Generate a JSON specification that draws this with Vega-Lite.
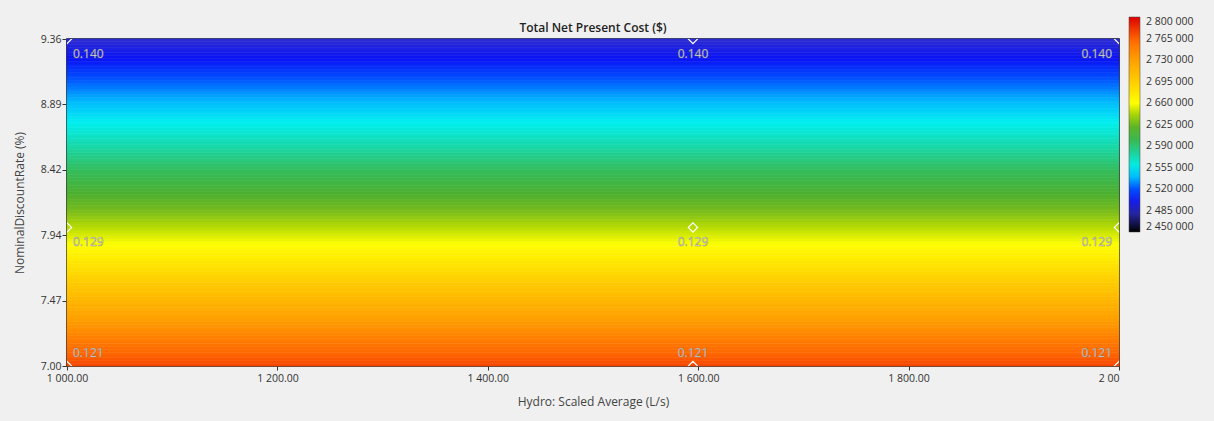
{
  "$schema": "https://vega.github.io/schema/vega-lite/v6.json",
  "width": 1052,
  "height": 327,
  "autosize": {"type": "none"},
  "padding": {"left": 67, "top": 39, "right": 95, "bottom": 55},
  "background": "#f0f0f0",
  "config": {
    "locale": {"number": {"decimal": ".", "thousands": " ", "grouping": [3], "currency": ["$", ""]}},
    "font": "Open Sans",
    "view": {"stroke": "#111111", "strokeWidth": 1.6},
    "axis": {
      "domain": false,
      "grid": false,
      "tickColor": "#333333",
      "tickSize": 4,
      "labelColor": "#333333",
      "labelFontSize": 10.5,
      "labelFont": "Open Sans",
      "labelFlush": false,
      "titleFont": "Open Sans",
      "titleFontSize": 12,
      "titleFontWeight": "normal",
      "titleColor": "#444444"
    }
  },
  "title": {
    "text": "Total Net Present Cost ($)",
    "fontSize": 12,
    "fontWeight": 600,
    "color": "#222222",
    "offset": 7,
    "dy": 25,
    "anchor": "middle",
    "frame": "group",
    "font": "Open Sans"
  },
  "datasets": {
    "strips": [
      {"r0": 7.00, "r1": 7.02, "npc": 2774900},
      {"r0": 7.02, "r1": 7.04, "npc": 2772100},
      {"r0": 7.04, "r1": 7.06, "npc": 2769400},
      {"r0": 7.06, "r1": 7.08, "npc": 2766600},
      {"r0": 7.08, "r1": 7.10, "npc": 2763900},
      {"r0": 7.10, "r1": 7.12, "npc": 2761100},
      {"r0": 7.12, "r1": 7.14, "npc": 2758400},
      {"r0": 7.14, "r1": 7.16, "npc": 2755600},
      {"r0": 7.16, "r1": 7.18, "npc": 2752900},
      {"r0": 7.18, "r1": 7.20, "npc": 2750200},
      {"r0": 7.20, "r1": 7.22, "npc": 2747500},
      {"r0": 7.22, "r1": 7.24, "npc": 2744800},
      {"r0": 7.24, "r1": 7.26, "npc": 2742100},
      {"r0": 7.26, "r1": 7.28, "npc": 2739400},
      {"r0": 7.28, "r1": 7.30, "npc": 2736700},
      {"r0": 7.30, "r1": 7.32, "npc": 2734000},
      {"r0": 7.32, "r1": 7.34, "npc": 2731300},
      {"r0": 7.34, "r1": 7.36, "npc": 2728700},
      {"r0": 7.36, "r1": 7.38, "npc": 2726000},
      {"r0": 7.38, "r1": 7.40, "npc": 2723300},
      {"r0": 7.40, "r1": 7.42, "npc": 2720700},
      {"r0": 7.42, "r1": 7.44, "npc": 2718000},
      {"r0": 7.44, "r1": 7.46, "npc": 2715400},
      {"r0": 7.46, "r1": 7.48, "npc": 2712700},
      {"r0": 7.48, "r1": 7.50, "npc": 2710100},
      {"r0": 7.50, "r1": 7.52, "npc": 2707500},
      {"r0": 7.52, "r1": 7.54, "npc": 2704900},
      {"r0": 7.54, "r1": 7.56, "npc": 2702300},
      {"r0": 7.56, "r1": 7.58, "npc": 2699600},
      {"r0": 7.58, "r1": 7.60, "npc": 2697000},
      {"r0": 7.60, "r1": 7.62, "npc": 2694400},
      {"r0": 7.62, "r1": 7.64, "npc": 2691900},
      {"r0": 7.64, "r1": 7.66, "npc": 2689300},
      {"r0": 7.66, "r1": 7.68, "npc": 2686700},
      {"r0": 7.68, "r1": 7.70, "npc": 2684100},
      {"r0": 7.70, "r1": 7.72, "npc": 2681600},
      {"r0": 7.72, "r1": 7.74, "npc": 2679000},
      {"r0": 7.74, "r1": 7.76, "npc": 2676400},
      {"r0": 7.76, "r1": 7.78, "npc": 2673900},
      {"r0": 7.78, "r1": 7.80, "npc": 2671300},
      {"r0": 7.80, "r1": 7.82, "npc": 2668800},
      {"r0": 7.82, "r1": 7.84, "npc": 2666300},
      {"r0": 7.84, "r1": 7.86, "npc": 2663800},
      {"r0": 7.86, "r1": 7.88, "npc": 2661200},
      {"r0": 7.88, "r1": 7.90, "npc": 2658700},
      {"r0": 7.90, "r1": 7.92, "npc": 2656200},
      {"r0": 7.92, "r1": 7.94, "npc": 2653700},
      {"r0": 7.94, "r1": 7.96, "npc": 2651200},
      {"r0": 7.96, "r1": 7.98, "npc": 2648700},
      {"r0": 7.98, "r1": 8.00, "npc": 2646200},
      {"r0": 8.00, "r1": 8.02, "npc": 2643800},
      {"r0": 8.02, "r1": 8.04, "npc": 2641300},
      {"r0": 8.04, "r1": 8.06, "npc": 2638800},
      {"r0": 8.06, "r1": 8.08, "npc": 2636400},
      {"r0": 8.08, "r1": 8.10, "npc": 2633900},
      {"r0": 8.10, "r1": 8.12, "npc": 2631500},
      {"r0": 8.12, "r1": 8.14, "npc": 2629000},
      {"r0": 8.14, "r1": 8.16, "npc": 2626600},
      {"r0": 8.16, "r1": 8.18, "npc": 2624100},
      {"r0": 8.18, "r1": 8.20, "npc": 2621700},
      {"r0": 8.20, "r1": 8.22, "npc": 2619300},
      {"r0": 8.22, "r1": 8.24, "npc": 2616900},
      {"r0": 8.24, "r1": 8.26, "npc": 2614500},
      {"r0": 8.26, "r1": 8.28, "npc": 2612100},
      {"r0": 8.28, "r1": 8.30, "npc": 2609700},
      {"r0": 8.30, "r1": 8.32, "npc": 2607300},
      {"r0": 8.32, "r1": 8.34, "npc": 2604900},
      {"r0": 8.34, "r1": 8.36, "npc": 2602500},
      {"r0": 8.36, "r1": 8.38, "npc": 2600100},
      {"r0": 8.38, "r1": 8.40, "npc": 2597800},
      {"r0": 8.40, "r1": 8.42, "npc": 2595400},
      {"r0": 8.42, "r1": 8.44, "npc": 2593100},
      {"r0": 8.44, "r1": 8.46, "npc": 2590700},
      {"r0": 8.46, "r1": 8.48, "npc": 2588400},
      {"r0": 8.48, "r1": 8.50, "npc": 2586000},
      {"r0": 8.50, "r1": 8.52, "npc": 2583700},
      {"r0": 8.52, "r1": 8.54, "npc": 2581400},
      {"r0": 8.54, "r1": 8.56, "npc": 2579000},
      {"r0": 8.56, "r1": 8.58, "npc": 2576700},
      {"r0": 8.58, "r1": 8.60, "npc": 2574400},
      {"r0": 8.60, "r1": 8.62, "npc": 2572100},
      {"r0": 8.62, "r1": 8.64, "npc": 2569800},
      {"r0": 8.64, "r1": 8.66, "npc": 2567500},
      {"r0": 8.66, "r1": 8.68, "npc": 2565300},
      {"r0": 8.68, "r1": 8.70, "npc": 2563000},
      {"r0": 8.70, "r1": 8.72, "npc": 2560700},
      {"r0": 8.72, "r1": 8.74, "npc": 2558400},
      {"r0": 8.74, "r1": 8.76, "npc": 2556200},
      {"r0": 8.76, "r1": 8.78, "npc": 2553900},
      {"r0": 8.78, "r1": 8.80, "npc": 2551700},
      {"r0": 8.80, "r1": 8.82, "npc": 2549400},
      {"r0": 8.82, "r1": 8.84, "npc": 2547200},
      {"r0": 8.84, "r1": 8.86, "npc": 2544900},
      {"r0": 8.86, "r1": 8.88, "npc": 2542700},
      {"r0": 8.88, "r1": 8.90, "npc": 2540500},
      {"r0": 8.90, "r1": 8.92, "npc": 2538300},
      {"r0": 8.92, "r1": 8.94, "npc": 2536100},
      {"r0": 8.94, "r1": 8.96, "npc": 2533900},
      {"r0": 8.96, "r1": 8.98, "npc": 2531700},
      {"r0": 8.98, "r1": 9.00, "npc": 2529500},
      {"r0": 9.00, "r1": 9.02, "npc": 2527300},
      {"r0": 9.02, "r1": 9.04, "npc": 2525100},
      {"r0": 9.04, "r1": 9.06, "npc": 2522900},
      {"r0": 9.06, "r1": 9.08, "npc": 2520800},
      {"r0": 9.08, "r1": 9.10, "npc": 2518600},
      {"r0": 9.10, "r1": 9.12, "npc": 2516500},
      {"r0": 9.12, "r1": 9.14, "npc": 2514300},
      {"r0": 9.14, "r1": 9.16, "npc": 2512200},
      {"r0": 9.16, "r1": 9.18, "npc": 2510000},
      {"r0": 9.18, "r1": 9.20, "npc": 2507900},
      {"r0": 9.20, "r1": 9.22, "npc": 2505800},
      {"r0": 9.22, "r1": 9.24, "npc": 2503600},
      {"r0": 9.24, "r1": 9.26, "npc": 2501500},
      {"r0": 9.26, "r1": 9.28, "npc": 2499400},
      {"r0": 9.28, "r1": 9.30, "npc": 2497300},
      {"r0": 9.30, "r1": 9.32, "npc": 2495200},
      {"r0": 9.32, "r1": 9.34, "npc": 2493100},
      {"r0": 9.34, "r1": 9.36, "npc": 2491000}
    ],
    "pts": [
      {"h": 1000, "rate": 9.36, "val": "0.140"},
      {"h": 1595, "rate": 9.36, "val": "0.140"},
      {"h": 2000, "rate": 9.36, "val": "0.140"},
      {"h": 1000, "rate": 8.0, "val": "0.129"},
      {"h": 1595, "rate": 8.0, "val": "0.129"},
      {"h": 2000, "rate": 8.0, "val": "0.129"},
      {"h": 1000, "rate": 7.0, "val": "0.121"},
      {"h": 1595, "rate": 7.0, "val": "0.121"},
      {"h": 2000, "rate": 7.0, "val": "0.121"}
    ]
  },
  "layer": [
    {
      "data": {"name": "strips"},
      "mark": {"type": "rect", "strokeWidth": 0.6, "stroke": {"expr": "scale('color', datum.npc)"}},
      "encoding": {
        "y": {
          "field": "r0", "type": "quantitative",
          "title": "NominalDiscountRate (%)",
          "scale": {"domain": [7, 9.36], "nice": false, "zero": false},
          "axis": {
            "title": "NominalDiscountRate (%)",
            "values": [7, 7.472, 7.944, 8.416, 8.888, 9.36],
            "format": ".2f",
            "tickSize": 5,
            "labelPadding": 1,
            "titlePadding": 14
          }
        },
        "y2": {"field": "r1"},
        "color": {
          "field": "npc", "type": "quantitative",
          "scale": {
            "domain": [2450000, 2470000, 2490000, 2505000, 2520000, 2537000, 2555000, 2575000, 2595000, 2615000, 2630000, 2645000, 2660000, 2695000, 2730000, 2765000, 2800000],
            "range": ["#000000", "#1c1c70", "#2d2dd2", "#0a14f5", "#0050ff", "#00b4ff", "#00f0f0", "#18d8a8", "#34bc5c", "#4cb030", "#78bc1c", "#b8dc00", "#ffff00", "#ffcc00", "#ffa000", "#ff6400", "#dc0000"],
            "interpolate": "rgb"
          },
          "legend": {
            "type": "gradient",
            "orient": "none",
            "legendX": 1062,
            "legendY": -22,
            "direction": "vertical",
            "title": null,
            "gradientLength": 215,
            "gradientThickness": 11,
            "gradientStrokeColor": "#444444",
            "gradientStrokeWidth": 0.5,
            "values": [2450000, 2485000, 2520000, 2555000, 2590000, 2625000, 2660000, 2695000, 2730000, 2765000, 2800000],
            "format": ",d",
            "labelFontSize": 10.5,
            "labelFont": "Open Sans",
            "labelColor": "#333333",
            "labelOffset": 6,
            "labelOverlap": false,
            "padding": 0
          }
        }
      }
    },
    {
      "data": {"name": "pts"},
      "mark": {"type": "point", "shape": "diamond", "filled": false, "color": "#ffffff", "strokeWidth": 1.2, "size": 85, "opacity": 1, "clip": true},
      "encoding": {
        "x": {
          "field": "h", "type": "quantitative",
          "title": "Hydro: Scaled Average (L/s)",
          "scale": {"domain": [1000, 2000], "nice": false, "zero": false},
          "axis": {
            "title": "Hydro: Scaled Average (L/s)",
            "values": [1000, 1200, 1400, 1600, 1800, 2000],
            "format": ",.2f",
            "labelExpr": "datum.value == 2000 ? '2 00' : datum.label",
            "labelAlign": {"condition": {"test": "datum.value == 2000", "value": "right"}, "value": "center"},
            "labelPadding": 3,
            "titlePadding": 13
          }
        },
        "y": {"field": "rate", "type": "quantitative", "title": "NominalDiscountRate (%)", "scale": {"domain": [7, 9.36], "nice": false, "zero": false}}
      }
    },
    {
      "data": {"name": "pts"},
      "transform": [{"filter": "datum.h == 1000 && datum.rate > 7"}],
      "mark": {"type": "text", "align": "left", "dx": 6, "dy": 15, "fontSize": 12, "font": "Open Sans", "color": "#f6f6f6", "stroke": "#666666", "strokeWidth": 0.5, "strokeOpacity": 0.7},
      "encoding": {
        "x": {"field": "h", "type": "quantitative", "title": "Hydro: Scaled Average (L/s)", "scale": {"domain": [1000, 2000], "nice": false, "zero": false}},
        "y": {"field": "rate", "type": "quantitative", "title": "NominalDiscountRate (%)", "scale": {"domain": [7, 9.36], "nice": false, "zero": false}},
        "text": {"field": "val"}
      }
    },
    {
      "data": {"name": "pts"},
      "transform": [{"filter": "datum.h == 1000 && datum.rate == 7"}],
      "mark": {"type": "text", "align": "left", "dx": 6, "dy": -13, "fontSize": 12, "font": "Open Sans", "color": "#f6f6f6", "stroke": "#666666", "strokeWidth": 0.5, "strokeOpacity": 0.7},
      "encoding": {
        "x": {"field": "h", "type": "quantitative", "title": "Hydro: Scaled Average (L/s)", "scale": {"domain": [1000, 2000], "nice": false, "zero": false}},
        "y": {"field": "rate", "type": "quantitative", "title": "NominalDiscountRate (%)", "scale": {"domain": [7, 9.36], "nice": false, "zero": false}},
        "text": {"field": "val"}
      }
    },
    {
      "data": {"name": "pts"},
      "transform": [{"filter": "datum.h == 1595 && datum.rate > 7"}],
      "mark": {"type": "text", "align": "center", "dy": 15, "fontSize": 12, "font": "Open Sans", "color": "#f6f6f6", "stroke": "#666666", "strokeWidth": 0.5, "strokeOpacity": 0.7},
      "encoding": {
        "x": {"field": "h", "type": "quantitative", "title": "Hydro: Scaled Average (L/s)", "scale": {"domain": [1000, 2000], "nice": false, "zero": false}},
        "y": {"field": "rate", "type": "quantitative", "title": "NominalDiscountRate (%)", "scale": {"domain": [7, 9.36], "nice": false, "zero": false}},
        "text": {"field": "val"}
      }
    },
    {
      "data": {"name": "pts"},
      "transform": [{"filter": "datum.h == 1595 && datum.rate == 7"}],
      "mark": {"type": "text", "align": "center", "dy": -13, "fontSize": 12, "font": "Open Sans", "color": "#f6f6f6", "stroke": "#666666", "strokeWidth": 0.5, "strokeOpacity": 0.7},
      "encoding": {
        "x": {"field": "h", "type": "quantitative", "title": "Hydro: Scaled Average (L/s)", "scale": {"domain": [1000, 2000], "nice": false, "zero": false}},
        "y": {"field": "rate", "type": "quantitative", "title": "NominalDiscountRate (%)", "scale": {"domain": [7, 9.36], "nice": false, "zero": false}},
        "text": {"field": "val"}
      }
    },
    {
      "data": {"name": "pts"},
      "transform": [{"filter": "datum.h == 2000 && datum.rate > 7"}],
      "mark": {"type": "text", "align": "right", "dx": -7, "dy": 15, "fontSize": 12, "font": "Open Sans", "color": "#f6f6f6", "stroke": "#666666", "strokeWidth": 0.5, "strokeOpacity": 0.7},
      "encoding": {
        "x": {"field": "h", "type": "quantitative", "title": "Hydro: Scaled Average (L/s)", "scale": {"domain": [1000, 2000], "nice": false, "zero": false}},
        "y": {"field": "rate", "type": "quantitative", "title": "NominalDiscountRate (%)", "scale": {"domain": [7, 9.36], "nice": false, "zero": false}},
        "text": {"field": "val"}
      }
    },
    {
      "data": {"name": "pts"},
      "transform": [{"filter": "datum.h == 2000 && datum.rate == 7"}],
      "mark": {"type": "text", "align": "right", "dx": -7, "dy": -13, "fontSize": 12, "font": "Open Sans", "color": "#f6f6f6", "stroke": "#666666", "strokeWidth": 0.5, "strokeOpacity": 0.7},
      "encoding": {
        "x": {"field": "h", "type": "quantitative", "title": "Hydro: Scaled Average (L/s)", "scale": {"domain": [1000, 2000], "nice": false, "zero": false}},
        "y": {"field": "rate", "type": "quantitative", "title": "NominalDiscountRate (%)", "scale": {"domain": [7, 9.36], "nice": false, "zero": false}},
        "text": {"field": "val"}
      }
    }
  ]
}
